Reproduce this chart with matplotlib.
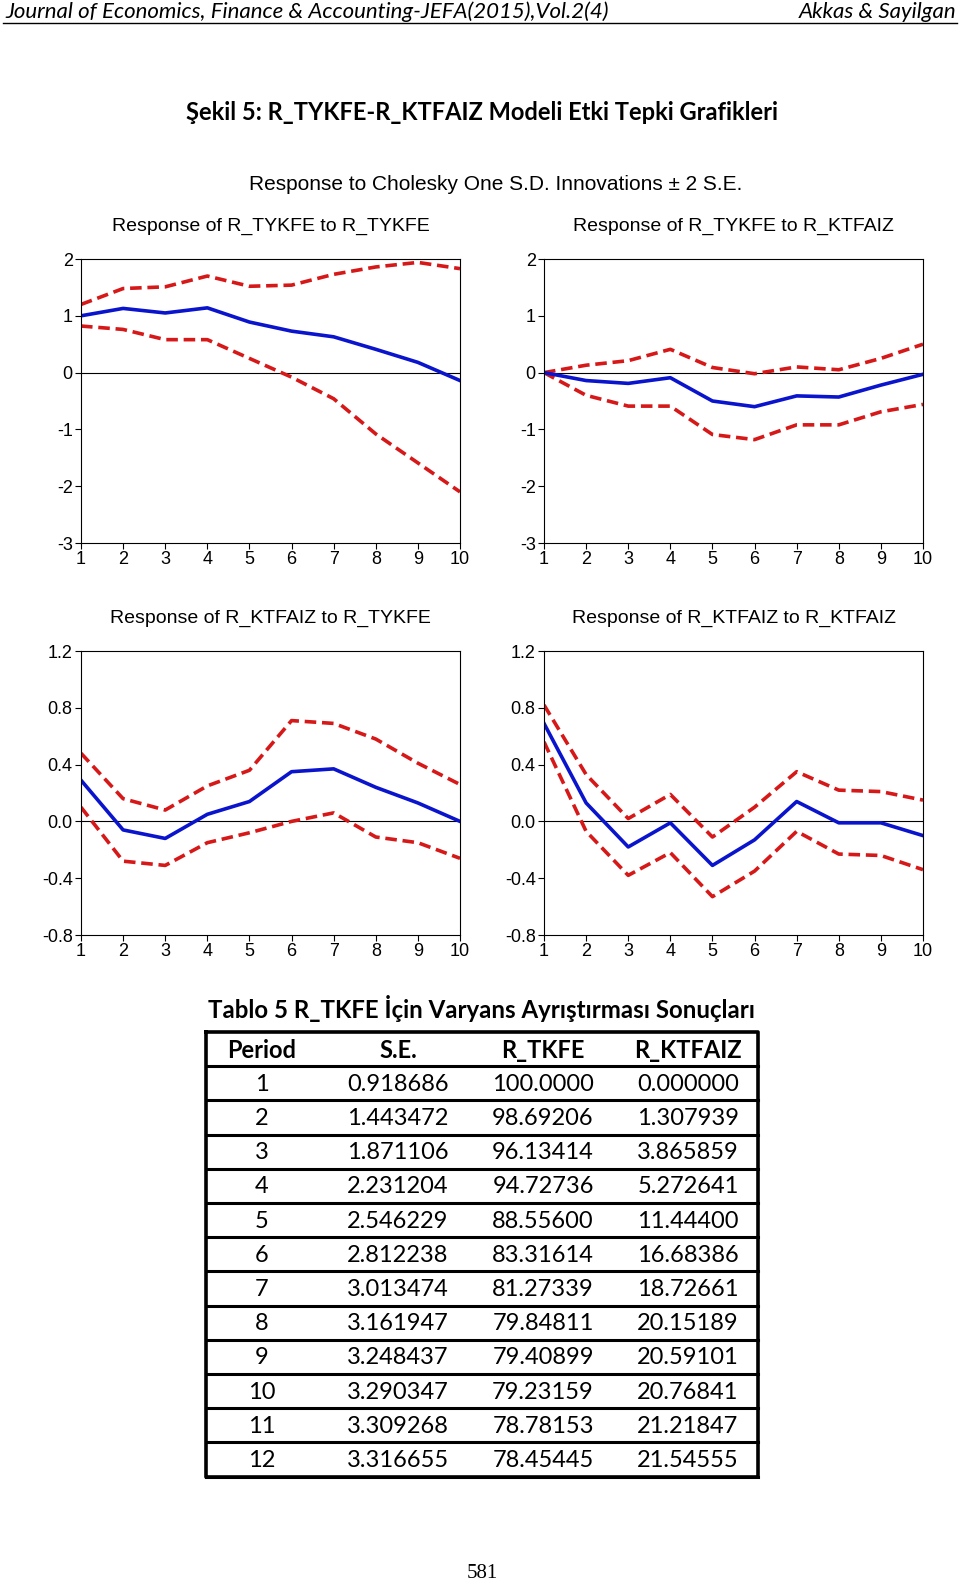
import matplotlib
matplotlib.use("Agg")
import matplotlib.pyplot as plt

# donnees
periodos = [1, 2, 3, 4, 5, 6, 7, 8, 9, 10]

tykfe_tykfe = [1.00, 1.13, 1.05, 1.14, 0.89, 0.73, 0.63, 0.41, 0.18, -0.14]
tykfe_tykfe_alto = [1.20, 1.48, 1.51, 1.70, 1.52, 1.54, 1.73, 1.86, 1.94, 1.83]
tykfe_tykfe_baixo = [0.82, 0.76, 0.58, 0.58, 0.25, -0.08, -0.46, -1.08, -1.59, -2.10]

tykfe_ktfaiz = [0.00, -0.14, -0.19, -0.09, -0.50, -0.60, -0.41, -0.43, -0.22, -0.03]
tykfe_ktfaiz_alto = [0.00, 0.13, 0.21, 0.41, 0.09, -0.02, 0.10, 0.05, 0.25, 0.50]
tykfe_ktfaiz_baixo = [0.00, -0.40, -0.59, -0.59, -1.09, -1.18, -0.92, -0.92, -0.69, -0.56]

ktfaiz_tykfe = [0.29, -0.06, -0.12, 0.05, 0.14, 0.35, 0.37, 0.24, 0.13, 0.00]
ktfaiz_tykfe_alto = [0.48, 0.16, 0.08, 0.25, 0.36, 0.71, 0.69, 0.58, 0.41, 0.26]
ktfaiz_tykfe_baixo = [0.10, -0.28, -0.31, -0.15, -0.08, 0.00, 0.06, -0.11, -0.15, -0.26]

ktfaiz_ktfaiz = [0.69, 0.13, -0.18, -0.01, -0.31, -0.13, 0.14, -0.01, -0.01, -0.10]
ktfaiz_ktfaiz_alto = [0.82, 0.33, 0.02, 0.19, -0.11, 0.10, 0.35, 0.22, 0.21, 0.15]
ktfaiz_ktfaiz_baixo = [0.56, -0.07, -0.38, -0.22, -0.53, -0.35, -0.07, -0.23, -0.24, -0.34]

titulos = ["Response of R_TYKFE to R_TYKFE", "Response of R_TYKFE to R_KTFAIZ",
           "Response of R_KTFAIZ to R_TYKFE", "Response of R_KTFAIZ to R_KTFAIZ"]

# tabela de decomposicao de variancia
cabecalho = ["Period", "S.E.", "R_TKFE", "R_KTFAIZ"]
periodo_tab = ["1", "2", "3", "4", "5", "6", "7", "8", "9", "10", "11", "12"]
se_tab = ["0.918686", "1.443472", "1.871106", "2.231204", "2.546229", "2.812238",
          "3.013474", "3.161947", "3.248437", "3.290347", "3.309268", "3.316655"]
tkfe_tab = ["100.0000", "98.69206", "96.13414", "94.72736", "88.55600", "83.31614",
            "81.27339", "79.84811", "79.40899", "79.23159", "78.78153", "78.45445"]
ktfaiz_tab = ["0.000000", "1.307939", "3.865859", "5.272641", "11.44400", "16.68386",
              "18.72661", "20.15189", "20.59101", "20.76841", "21.21847", "21.54555"]

W, H = 960, 1587
fig = plt.figure(figsize=(W / 100, H / 100), dpi=100)

# camada de fundo em pixels para textos e tabela
bg = fig.add_axes([0, 0, 1, 1])
bg.set_xlim(0, W)
bg.set_ylim(H, 0)
bg.axis("off")

arial = "Liberation Sans"
calibri = "Lato"

bg.text(5, 12, "Journal of Economics, Finance & Accounting-JEFA(2015),Vol.2(4)",
        fontsize=16, style="italic", family=calibri, va="center", ha="left")
bg.text(956, 12, "Akkas & Sayilgan", fontsize=16, style="italic", family=calibri,
        va="center", ha="right")
bg.plot([3, 957], [23, 23], color="black", lw=1)

bg.text(482, 113, "Şekil 5: R_TYKFE-R_KTFAIZ Modeli Etki Tepki Grafikleri",
        fontsize=17, fontweight="bold", family=calibri, ha="center", va="center")
bg.text(496, 184, "Response to Cholesky One S.D. Innovations ± 2 S.E.",
        fontsize=15, family=arial, ha="center", va="center")


def painel(pos, media, alto, baixo, titulo, ylim, yticks, ylabels):
    ax = fig.add_axes(pos)
    ax.plot(periodos, alto, color="#d61818", lw=2.6, ls=(0, (3.2, 1.6)))
    ax.plot(periodos, baixo, color="#d61818", lw=2.6, ls=(0, (3.2, 1.6)))
    ax.plot(periodos, media, color="#0a14cc", lw=2.6)
    ax.axhline(0, color="black", lw=0.8, zorder=0)
    ax.set_xlim(1, 10)
    ax.set_ylim(*ylim)
    ax.set_xticks(periodos)
    ax.set_yticks(yticks)
    ax.set_yticklabels(ylabels)
    ax.tick_params(direction="out", length=4, width=0.8, labelsize=13, pad=2)
    for lab in ax.get_xticklabels() + ax.get_yticklabels():
        lab.set_family(arial)
    for s in ax.spines.values():
        s.set_linewidth(0.8)
    ax.set_title(titulo, fontsize=14, family=arial, pad=20)
    return ax


esq, dir_ = 81 / W, 544 / W
larg = 379 / W
alt = 284 / H
topo1 = 1 - 543 / H
topo2 = 1 - 935 / H

yt1 = [-3, -2, -1, 0, 1, 2]
yl1 = ["-3", "-2", "-1", "0", "1", "2"]
yt2 = [-0.8, -0.4, 0.0, 0.4, 0.8, 1.2]
yl2 = ["-0.8", "-0.4", "0.0", "0.4", "0.8", "1.2"]

painel([esq, topo1, larg, alt], tykfe_tykfe, tykfe_tykfe_alto, tykfe_tykfe_baixo,
       titulos[0], (-3, 2), yt1, yl1)
painel([dir_, topo1, larg, alt], tykfe_ktfaiz, tykfe_ktfaiz_alto, tykfe_ktfaiz_baixo,
       titulos[1], (-3, 2), yt1, yl1)
painel([esq, topo2, larg, alt], ktfaiz_tykfe, ktfaiz_tykfe_alto, ktfaiz_tykfe_baixo,
       titulos[2], (-0.8, 1.2), yt2, yl2)
painel([dir_, topo2, larg, alt], ktfaiz_ktfaiz, ktfaiz_ktfaiz_alto, ktfaiz_ktfaiz_baixo,
       titulos[3], (-0.8, 1.2), yt2, yl2)

# tabela
bg.text(482, 1009, "Tablo 5 R_TKFE İçin Varyans Ayrıştırması Sonuçları",
        fontsize=17.3, fontweight="bold", family=calibri, ha="center", va="center")

tx0, tx1 = 206, 758
ty0 = 1032
lin_h = 34.2
colx = [262, 398, 543, 688]
linhas = [cabecalho] + [list(r) for r in zip(periodo_tab, se_tab, tkfe_tab, ktfaiz_tab)]
for i, linha in enumerate(linhas):
    yc = ty0 + lin_h * (i + 0.5)
    for x, val in zip(colx, linha):
        bg.text(x, yc + 1, val, fontsize=17, family=calibri, ha="center", va="center",
                fontweight="bold" if i == 0 else "normal")
    bg.plot([tx0, tx1], [ty0 + lin_h * (i + 1)] * 2, color="black", lw=2.2)
ty1 = ty0 + lin_h * len(linhas)
bg.plot([tx0, tx1, tx1, tx0, tx0], [ty0, ty0, ty1, ty1, ty0], color="black", lw=2.6)

bg.text(482, 1573, "581", fontsize=15, family="Liberation Serif", ha="center", va="center")

fig.savefig("out.png", dpi=100)
